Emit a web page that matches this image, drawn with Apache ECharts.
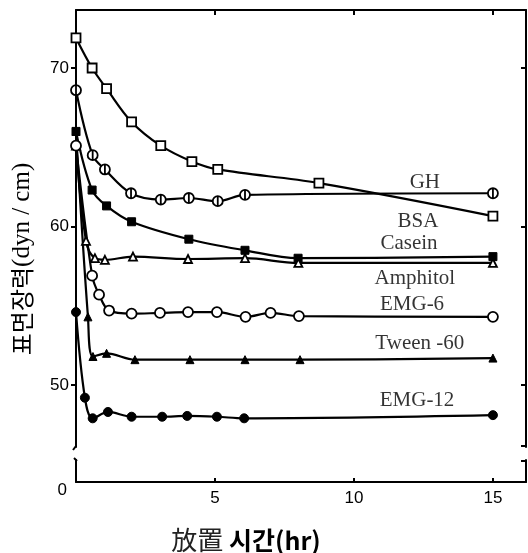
<!DOCTYPE html>
<html><head><meta charset="utf-8">
<script src="https://cdn.jsdelivr.net/npm/echarts@6/dist/echarts.min.js"></script>
<style>html,body{margin:0;padding:0;background:#fff}#c{width:528px;height:553px}</style>
</head><body><div id="c"></div>
<script>
// ---- data ----
const xTickValues = [5, 10, 15];
const xLabelValues = [5, 10, 15];
const yTickValues = [50, 60, 70];

const bsaTime = [0, 0.58, 1.1, 2.0, 3.05, 4.17, 5.1, 8.74, 15];
const bsaValue = [71.9, 70.0, 68.7, 66.6, 65.1, 64.1, 63.6, 62.74, 60.66];

const ghTime = [0, 0.6, 1.04, 1.98, 3.05, 4.06, 5.1, 6.08, 15];
const ghValue = [68.6, 64.5, 63.6, 62.1, 61.7, 61.8, 61.6, 62.0, 62.1];

const caseinTime = [0, 0.58, 1.1, 2.0, 4.06, 6.08, 7.99, 15];
const caseinValue = [66.0, 62.3, 61.3, 60.3, 59.2, 58.5, 58.0, 58.1];

const amphitolTime = [0, 0.36, 0.68, 1.04, 2.05, 4.03, 6.08, 8.0, 15];
const amphitolValue = [65.1, 59.1, 58.0, 57.9, 58.1, 57.95, 58.0, 57.7, 57.7];

const emg6Time = [0, 0.58, 0.83, 1.19, 2.0, 3.02, 4.03, 5.07, 6.1, 7.0, 8.02, 15];
const emg6Value = [65.1, 56.9, 55.7, 54.7, 54.5, 54.55, 54.6, 54.6, 54.3, 54.55, 54.35, 54.3];

const tweenTime = [0, 0.43, 0.61, 1.1, 2.12, 4.1, 6.08, 8.06, 15];
const tweenValue = [66.0, 54.3, 51.8, 52.0, 51.6, 51.6, 51.6, 51.6, 51.7];

const emg12Time = [0, 0.32, 0.6, 1.15, 2.0, 3.1, 4.0, 5.07, 6.05, 15];
const emg12Value = [54.6, 49.2, 47.9, 48.3, 48.0, 48.0, 48.05, 48.0, 47.9, 48.1];

const seriesNames = ['GH', 'BSA', 'Casein', 'Amphitol', 'EMG-6', 'Tween -60', 'EMG-12'];
const labelX = [12.55, 12.3, 11.98, 12.19, 12.09, 12.37, 12.27];
const labelY = [62.78, 60.32, 58.9, 56.7, 55.1, 52.6, 49.05];

const yTitleKo = '표면장력';
const yTitleUnit = '(dyn / cm)';
const xTitleHanja = '放置 ';
const xTitleKo = '시간(hr)';

// ---- chart ----
const X_MIN = 0, X_MAX = 16.19;
const Y_MIN = 46.09, Y_MAX = 73.66;
const Y2_MIN = 0, Y2_MAX = 1.39;

function pairs(t, v) { return t.map((x, i) => [x, v[i]]); }

const openStyle = { color: '#fff', borderColor: '#000', borderWidth: 1.8 };
const fillStyle = { color: '#000', borderColor: '#000', borderWidth: 1 };
const phiSymbol = 'path://M0,-10A10,10 0 1 1 0,10A10,10 0 1 1 0,-10ZM0,-10L0,10';

function line(name, t, v, symbol, size, style) {
  return {
    name: name, type: 'line', xAxisIndex: 0, yAxisIndex: 0,
    data: pairs(t, v), smooth: 0.35, symbol: symbol, symbolSize: size,
    showAllSymbol: true,
    lineStyle: { color: '#000', width: 2.2 },
    itemStyle: style, z: 3
  };
}

const axisBlack = { color: '#000', width: 2 };

const option = {
  animation: false,
  backgroundColor: '#fff',
  grid: [
    { left: 76, right: 2, top: 10, height: 437 },
    { left: 76, right: 2, top: 460, height: 22 }
  ],
  xAxis: [
    { gridIndex: 0, type: 'value', min: X_MIN, max: X_MAX, position: 'bottom',
      axisLine: { show: false }, axisTick: { show: false }, axisLabel: { show: false }, splitLine: { show: false } },
    { gridIndex: 0, type: 'value', min: X_MIN, max: X_MAX, position: 'top',
      axisLine: { show: true, onZero: false, lineStyle: axisBlack },
      axisTick: { show: true, inside: true, length: 5, customValues: xTickValues, lineStyle: axisBlack },
      axisLabel: { show: false }, splitLine: { show: false } },
    { gridIndex: 1, type: 'value', min: X_MIN, max: X_MAX, position: 'bottom',
      axisLine: { show: true, onZero: false, lineStyle: axisBlack },
      axisTick: { show: true, inside: true, length: 4, customValues: xTickValues, lineStyle: axisBlack },
      axisLabel: { show: true, customValues: xLabelValues, color: '#000', fontSize: 17,
        fontFamily: 'Liberation Sans', margin: 8 },
      splitLine: { show: false } }
  ],
  yAxis: [
    { gridIndex: 0, type: 'value', min: Y_MIN, max: Y_MAX, position: 'left',
      axisLine: { show: true, onZero: false, lineStyle: axisBlack },
      axisTick: { show: true, inside: false, length: 5, customValues: yTickValues, lineStyle: axisBlack },
      axisLabel: { show: true, customValues: yTickValues, color: '#000', fontSize: 17,
        fontFamily: 'Liberation Sans', margin: 7 },
      splitLine: { show: false } },
    { gridIndex: 0, type: 'value', min: Y_MIN, max: Y_MAX, position: 'right',
      axisLine: { show: true, onZero: false, lineStyle: axisBlack },
      axisTick: { show: true, inside: true, length: 5, customValues: yTickValues, lineStyle: axisBlack },
      axisLabel: { show: false }, splitLine: { show: false } },
    { gridIndex: 1, type: 'value', min: Y2_MIN, max: Y2_MAX, position: 'left',
      axisLine: { show: true, onZero: false, lineStyle: axisBlack },
      axisTick: { show: false },
      axisLabel: { show: true, customValues: [0], color: '#000', fontSize: 17,
        fontFamily: 'Liberation Sans', margin: 9, verticalAlign: 'top' },
      splitLine: { show: false } },
    { gridIndex: 1, type: 'value', min: Y2_MIN, max: Y2_MAX, position: 'right',
      axisLine: { show: true, onZero: false, lineStyle: axisBlack },
      axisTick: { show: false }, axisLabel: { show: false }, splitLine: { show: false } }
  ],
  series: [
    line('BSA', bsaTime, bsaValue, 'rect', 9, openStyle),
    line('GH', ghTime, ghValue, phiSymbol, 10, openStyle),
    line('Casein', caseinTime, caseinValue, 'rect', 8, fillStyle),
    line('Amphitol', amphitolTime, amphitolValue, 'triangle', 8, openStyle),
    line('EMG-6', emg6Time, emg6Value, 'circle', 10, openStyle),
    line('Tween -60', tweenTime, tweenValue, 'triangle', 8, fillStyle),
    line('EMG-12', emg12Time, emg12Value, 'circle', 9, fillStyle),
    {
      type: 'scatter', xAxisIndex: 0, yAxisIndex: 0, z: 5,
      data: seriesNames.map((n, i) => [labelX[i], labelY[i], n]),
      symbolSize: 1, itemStyle: { color: 'rgba(0,0,0,0)' },
      label: { show: true, position: 'inside', formatter: p => p.data[2],
        fontFamily: 'Liberation Serif', fontSize: 21, color: '#000' },
      silent: true
    }
  ],
  graphic: [
    { type: 'text', x: 22, y: 259, rotation: Math.PI / 2,
      style: { text: '{k|' + yTitleKo + '}{l|' + yTitleUnit + '}', align: 'center', verticalAlign: 'middle',
        rich: { k: { fontFamily: 'Noto Sans CJK KR', fontSize: 24, fill: '#000' },
                l: { fontFamily: 'Liberation Serif', fontSize: 25, fill: '#000' } } } },
    { type: 'text', x: 246, y: 540,
      style: { text: '{a|' + xTitleHanja + '}{b|' + xTitleKo + '}', align: 'center', verticalAlign: 'middle',
        rich: { a: { fontFamily: 'Noto Sans CJK KR', fontSize: 26, fill: '#222' },
                b: { fontFamily: 'Noto Sans CJK KR', fontWeight: 'bold', fontSize: 25, fill: '#000' } } } },
    // axis-break hooks
    { type: 'polyline', shape: { points: [[76, 446], [73, 450]] }, style: { stroke: '#000', lineWidth: 2, fill: null } },
    { type: 'polyline', shape: { points: [[77, 461], [74, 458]] }, style: { stroke: '#000', lineWidth: 2, fill: null } },
    { type: 'polyline', shape: { points: [[525, 446], [521, 446]] }, style: { stroke: '#000', lineWidth: 2, fill: null } },
    { type: 'polyline', shape: { points: [[525, 461], [521, 461]] }, style: { stroke: '#000', lineWidth: 2, fill: null } }
  ]
};

const chart = echarts.init(document.getElementById('c'), null, { renderer: 'canvas' });
chart.setOption(option);
</script>
</body></html>
